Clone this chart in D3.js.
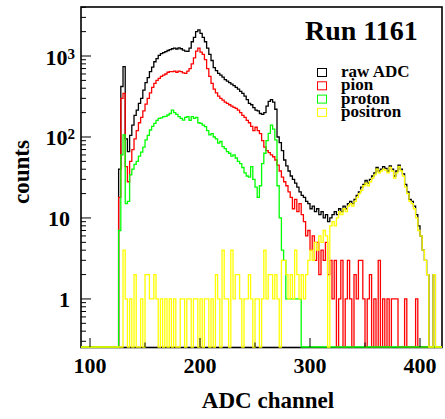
<!DOCTYPE html>
<html>
<head>
<meta charset="utf-8">
<script src="https://cdn.jsdelivr.net/npm/d3@7"></script>
<style>
  body { margin: 0; background: #fff; }
  svg text { font-family: "Liberation Serif", "Times New Roman", serif; font-weight: bold; fill: #000; }
</style>
</head>
<body>
<div id="chart"></div>
<script>
// Histogram binning (ADC channels)
var firstBin = 126,
    binWidth = 2;

// Counts per bin, bins start at 126, 128, ... 418
var rawADC = [
    40, 420, 740, 95, 66, 105, 140, 185, 215, 260,
    300, 380, 470, 540, 640, 730, 850, 930, 1020, 1070,
    1100, 1130, 1170, 1200, 1230, 1250, 1220, 1260, 1230, 1180,
    1150, 1140, 1250, 1500, 1700, 2000, 2100, 1900, 1700, 1500,
    1250, 1050, 880, 720, 660, 610, 580, 550, 510, 490,
    470, 450, 430, 410, 390, 365, 345, 320, 290, 260,
    250, 230, 215, 210, 195, 190, 200, 240, 275, 290,
    270, 220, 100, 85, 68, 52, 44, 38, 33, 30,
    27, 24, 21, 19, 18, 16, 15, 13, 14, 12,
    13, 11, 12, 10, 11, 9, 10, 11, 12, 11,
    13, 12, 14, 13, 15, 16, 15, 17, 19, 21,
    24, 26, 29, 27, 30, 33, 36, 42, 38, 40,
    43, 41, 38, 44, 40, 33, 38, 45, 40, 35,
    26, 21, 17, 16, 14, 11, 8, 6, 4, 3,
    2, 0, 0, 2, 0, 0, 0
];

var pion = [
    18, 300, 345, 43, 28, 50, 70, 95, 120, 150,
    175, 210, 255, 300, 350, 410, 460, 500, 530, 560,
    580, 600, 630, 640, 640, 650, 630, 650, 640, 620,
    610, 650, 700, 800, 950, 1150, 1250, 1120, 1050, 900,
    700, 560, 460, 390, 350, 320, 300, 285, 270, 260,
    250, 240, 232, 225, 215, 200, 185, 175, 160, 150,
    135, 120, 132, 120, 110, 90, 75, 68, 64, 60,
    57, 52, 45, 38, 32, 28, 25, 21, 18, 13,
    17, 12, 15, 11, 9, 6, 7, 4, 6, 3,
    5, 2, 4, 3, 5, 2, 3, 1, 3, 0,
    1, 3, 0, 1, 3, 1, 0, 2, 1, 3,
    3, 1, 0, 1, 2, 0, 1, 0, 3, 0,
    1, 0, 1, 0, 1, 1, 1, 0, 0, 0,
    1, 0, 0, 0, 0, 1, 0, 0, 0, 0,
    0, 0, 0, 0, 0, 0, 0
];

var proton = [
    7, 60, 106, 15, 16, 34, 40, 46, 50, 58,
    65, 75, 92, 105, 122, 135, 147, 160, 170, 172,
    178, 180, 187, 195, 215, 200, 190, 178, 170, 162,
    175, 178, 160, 178, 170, 175, 150, 147, 140, 134,
    120, 106, 110, 100, 95, 84, 88, 76, 72, 66,
    63, 58, 60, 55, 50, 47, 42, 36, 33, 32,
    43, 30, 24, 18, 25, 47, 63, 90, 111, 140,
    125, 92, 25, 10, 4, 3, 1, 1, 1, 1,
    1, 1, 1, 0, 0, 0, 0, 0, 0, 0,
    0, 0, 0, 0, 0, 0, 0, 0, 0, 0,
    0, 0, 0, 0, 0, 0, 0, 0, 0, 0,
    0, 0, 0, 0, 0, 0, 0, 0, 0, 0,
    0, 0, 0, 0, 0, 0, 0, 0, 0, 0,
    0, 0, 0, 0, 0, 0, 0, 0, 0, 0,
    0, 0, 0, 0, 0, 0, 0
];

var positron = [
    0, 0, 4, 1, 0, 1, 0, 2, 0, 0,
    1, 0, 2, 2, 1, 1, 2, 1, 0, 1,
    0, 1, 0, 1, 0, 1, 0, 0, 1, 1,
    0, 1, 1, 0, 1, 1, 0, 1, 0, 1,
    1, 0, 1, 0, 2, 1, 0, 4, 1, 1,
    0, 4, 1, 2, 2, 1, 0, 1, 1, 2,
    1, 0, 1, 1, 0, 1, 4, 1, 2, 2,
    1, 2, 1, 0, 3, 3, 2, 1, 2, 1,
    4, 2, 1, 2, 1, 2, 3, 4, 3, 5,
    4, 6, 5, 7, 6, 0, 8, 9, 8, 10,
    12, 11, 13, 12, 14, 15, 14, 16, 18, 20,
    22, 25, 27, 25, 28, 31, 34, 40, 36, 38,
    40, 39, 36, 42, 38, 31, 36, 43, 38, 33,
    24, 20, 16, 15, 13, 10, 7, 6, 4, 3,
    2, 0, 0, 2, 0, 0, 0
];

var seriesNames = ["raw ADC", "pion", "proton", "positron"];
var seriesColors = ["#000000", "#ff0000", "#00ff00", "#ffff00"];
var seriesData = [rawADC, pion, proton, positron];

// Axis labels
var xTicksMajor = [100, 200, 300, 400];
var xTicksMinor = [150, 250, 350];
var yLabelValues = [1, 10, 100, 1000];
var yLabelBase = ["1", "10", "10", "10"];
var yLabelExp = ["", "", "2", "3"];

var w = 445,
    h = 419;
var plotLeft = 81, plotRight = 442, plotTop = 7, plotBottom = 347;

var svg = d3.select("#chart")
    .append("svg")
    .attr("width", w)
    .attr("height", h);

var x = d3.scaleLinear().domain([91.8, 420]).range([plotLeft, plotRight]);
var y = d3.scaleLog().domain([0.255, 4030]).range([plotBottom, plotTop]);
var yMin = y.domain()[0];

svg.append("defs").append("clipPath")
    .attr("id", "plotclip")
    .append("rect")
    .attr("x", plotLeft)
    .attr("y", plotTop)
    .attr("width", plotRight - plotLeft)
    .attr("height", plotBottom - plotTop + 2);

// frame
svg.append("rect")
    .attr("x", plotLeft)
    .attr("y", plotTop)
    .attr("width", plotRight - plotLeft)
    .attr("height", plotBottom - plotTop + 0.5)
    .attr("fill", "none")
    .attr("stroke", "#000")
    .attr("stroke-width", 1.6);

// histograms as step lines, zero bins drawn at the bottom like ROOT does
var line = d3.line()
    .x(function(d) { return x(d[0]); })
    .y(function(d) { return y(Math.max(d[1], yMin)); })
    .curve(d3.curveStepAfter);

var histGroup = svg.append("g").attr("clip-path", "url(#plotclip)");

seriesData.forEach(function(values, k) {
    var pts = [[x.domain()[0], 0]];
    values.forEach(function(v, i) {
        pts.push([firstBin + i * binWidth, v]);
    });
    pts.push([firstBin + values.length * binWidth, 0]);
    histGroup.append("path")
        .attr("d", line(pts))
        .attr("fill", "none")
        .attr("stroke", seriesColors[k])
        .attr("stroke-width", 1.3);
});

// y ticks
y.ticks().forEach(function(t) {
    var major = Math.abs(Math.log10(t) - Math.round(Math.log10(t))) < 1e-9;
    svg.append("line")
        .attr("x1", plotLeft)
        .attr("x2", plotLeft + (major ? 10 : 5))
        .attr("y1", y(t))
        .attr("y2", y(t))
        .attr("stroke", "#000")
        .attr("stroke-width", 1);
});

// x ticks
xTicksMajor.forEach(function(t) {
    svg.append("line")
        .attr("x1", x(t)).attr("x2", x(t))
        .attr("y1", plotBottom).attr("y2", plotBottom - 9)
        .attr("stroke", "#000").attr("stroke-width", 1);
    svg.append("text")
        .attr("x", x(t))
        .attr("y", 373)
        .attr("text-anchor", "middle")
        .attr("font-size", "22px")
        .text(t);
});
xTicksMinor.forEach(function(t) {
    svg.append("line")
        .attr("x1", x(t)).attr("x2", x(t))
        .attr("y1", plotBottom).attr("y2", plotBottom - 4.5)
        .attr("stroke", "#000").attr("stroke-width", 1);
});

// y labels
yLabelValues.forEach(function(v, i) {
    var t = svg.append("text")
        .attr("x", yLabelExp[i] ? 75 : 70)
        .attr("y", y(v) + 8.5)
        .attr("text-anchor", "end")
        .attr("font-size", "22px");
    t.append("tspan").text(yLabelBase[i]);
    if (yLabelExp[i]) {
        t.append("tspan")
            .attr("dy", -6)
            .attr("font-size", "15px")
            .text(yLabelExp[i]);
    }
});

// axis titles
svg.append("text")
    .attr("x", 268)
    .attr("y", 408)
    .attr("text-anchor", "middle")
    .attr("font-size", "23px")
    .text("ADC channel");

svg.append("text")
    .attr("transform", "translate(28.5,172) rotate(-90)")
    .attr("text-anchor", "middle")
    .attr("font-size", "23px")
    .text("counts");

// title
svg.append("text")
    .attr("x", 305)
    .attr("y", 39.5)
    .attr("font-size", "28px")
    .text("Run 1161");

// legend
seriesNames.forEach(function(name, i) {
    var base = 77 + i * 13.3;
    svg.append("rect")
        .attr("x", 317.5)
        .attr("y", base - 8.5)
        .attr("width", 9)
        .attr("height", 8)
        .attr("fill", "#fff")
        .attr("stroke", seriesColors[i])
        .attr("stroke-width", 1);
    svg.append("text")
        .attr("x", 341)
        .attr("y", base)
        .attr("font-size", "17px")
        .text(name);
});
</script>
</body>
</html>
